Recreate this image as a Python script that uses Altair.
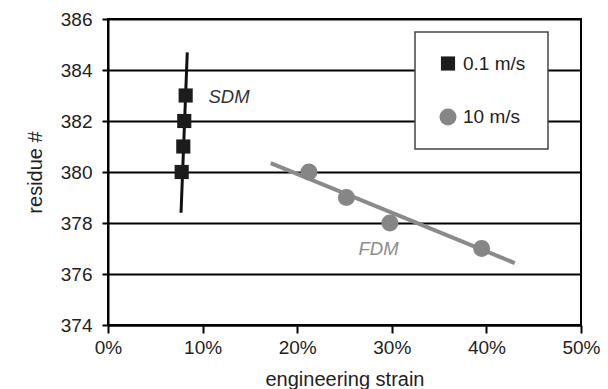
import altair as alt
import pandas as pd

# ---- data ----
series = ["0.1 m/s", "10 m/s"]

sdm_strain = [0.0779, 0.0796, 0.0806, 0.0821]
sdm_residue = [380, 381, 382, 383]

fdm_strain = [0.2124, 0.252, 0.298, 0.395]
fdm_residue = [380, 379, 378, 377]

# fitted trend lines (end points)
sdm_fit_strain = [0.0772, 0.0838]
sdm_fit_residue = [378.4, 384.69]
fdm_fit_strain = [0.172, 0.430]
fdm_fit_residue = [380.35, 376.43]

label_text = ["SDM", "FDM"]
label_strain = [0.128, 0.286]
label_residue = [382.94, 377.0]

x_ticks = [0, 0.1, 0.2, 0.3, 0.4, 0.5]
y_ticks = [374, 376, 378, 380, 382, 384, 386]

point_colors = ["#1c1c1c", "#868686"]
line_colors = ["#111111", "#8a8a8a"]
label_colors = ["#333333", "#8c8c8c"]

# ---- tables ----
pts = pd.DataFrame(
    {
        "strain": sdm_strain + fdm_strain,
        "residue": sdm_residue + fdm_residue,
        "series": [series[0]] * len(sdm_strain) + [series[1]] * len(fdm_strain),
    }
)
fits = pd.DataFrame(
    {
        "strain": sdm_fit_strain + fdm_fit_strain,
        "residue": sdm_fit_residue + fdm_fit_residue,
        "series": [series[0]] * 2 + [series[1]] * 2,
        "color": [line_colors[0]] * 2 + [line_colors[1]] * 2,
    }
)
labels = pd.DataFrame(
    {
        "strain": label_strain,
        "residue": label_residue,
        "text": label_text,
        "color": label_colors,
    }
)

FONT = "Liberation Sans"

x_enc = alt.X(
    "strain:Q",
    scale=alt.Scale(domain=[0, 0.5], nice=False),
    axis=alt.Axis(
        format=".0%",
        values=x_ticks,
        grid=False,
        title="engineering strain",
        tickSize=8,
        labelPadding=5,
        labelFlush=False,
        titlePadding=12,
    ),
)
y_enc = alt.Y(
    "residue:Q",
    scale=alt.Scale(domain=[374, 386], nice=False, zero=False),
    axis=alt.Axis(
        values=y_ticks,
        grid=True,
        gridColor="#000000",
        gridWidth=2,
        title="residue #",
        tickSize=6,
        labelPadding=10,
        labelFlush=False,
        titlePadding=15,
    ),
)

legend = alt.Legend(
    title=None,
    orient="none",
    legendX=307,
    legendY=13,
    padding=22,
    rowPadding=32,
    strokeColor="#444444",
    fillColor="white",
    labelFontSize=19,
    labelColor="#222222",
    labelFont=FONT,
    symbolSize=210,
    labelOffset=4,
    symbolStrokeWidth=0,
)

lines = (
    alt.Chart(fits)
    .mark_line()
    .encode(
        x=x_enc,
        y=y_enc,
        detail="series:N",
        color=alt.Color("color:N", scale=None),
        strokeWidth=alt.StrokeWidth(
            "series:N", scale=alt.Scale(domain=series, range=[3, 4]), legend=None
        ),
    )
)

points = (
    alt.Chart(pts)
    .mark_point(filled=True, opacity=1)
    .encode(
        x="strain:Q",
        y="residue:Q",
        color=alt.Color(
            "series:N", scale=alt.Scale(domain=series, range=point_colors), legend=legend
        ),
        shape=alt.Shape(
            "series:N", scale=alt.Scale(domain=series, range=["square", "circle"]), legend=legend
        ),
        size=alt.Size(
            "series:N", scale=alt.Scale(domain=series, range=[200, 290]), legend=None
        ),
    )
)

texts = (
    alt.Chart(labels)
    .mark_text(fontStyle="italic", fontSize=18.5, font=FONT)
    .encode(
        x="strain:Q",
        y="residue:Q",
        text="text:N",
        color=alt.Color("color:N", scale=None),
    )
)

chart = (
    alt.layer(lines, points, texts)
    .properties(
        width=473,
        height=306,
        autosize=alt.AutoSizeParams(type="none"),
        padding={"left": 100, "top": 11, "right": 19, "bottom": 70},
    )
    .configure(font=FONT)
    .configure_view(stroke="#000000", strokeWidth=2)
    .configure_axis(
        domainColor="#000000",
        domainWidth=2,
        tickColor="#000000",
        tickWidth=2,
        labelFontSize=19,
        labelColor="#222222",
        labelFont=FONT,
        titleFontSize=20,
        titleFontWeight="normal",
        titleColor="#222222",
        titleFont=FONT,
    )
    .configure_legend(strokeWidth=1.5)
)

chart.save("out.html", embed_options={"renderer": "svg", "actions": False})
